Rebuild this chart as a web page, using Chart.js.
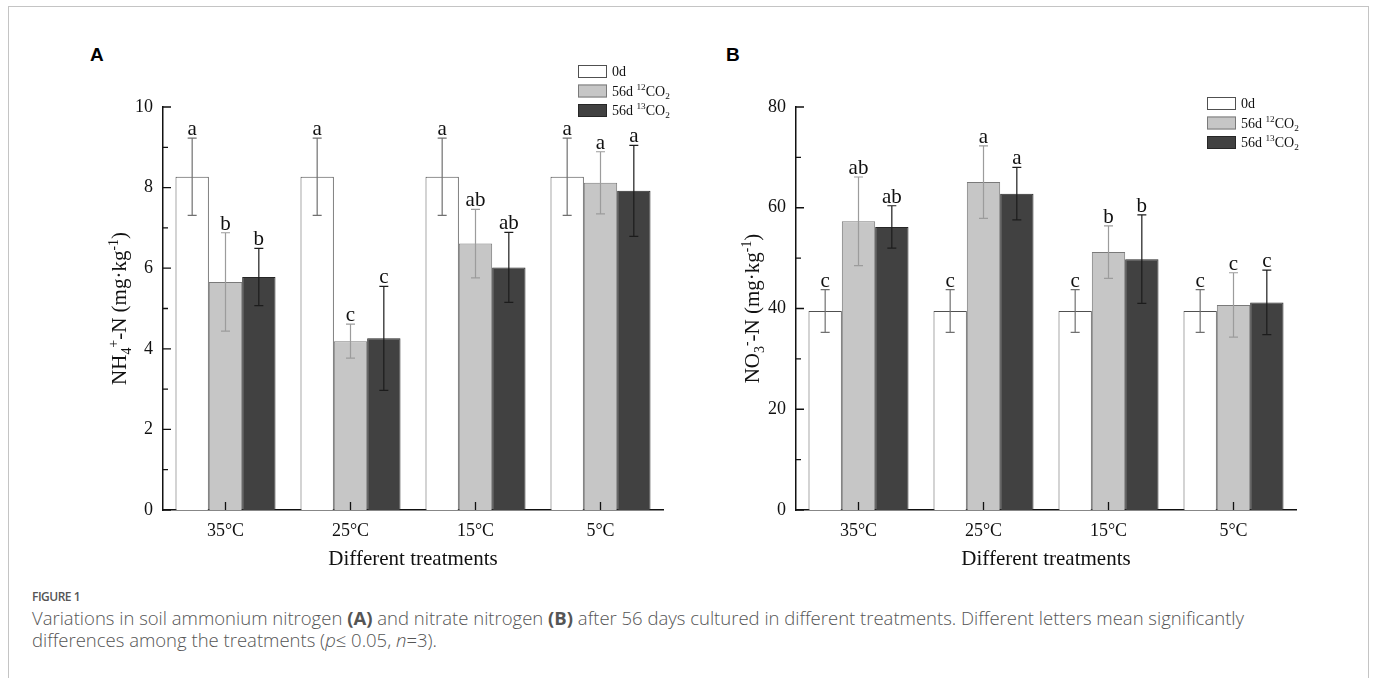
<!DOCTYPE html>
<html>
<head>
<meta charset="utf-8">
<script src="https://cdn.jsdelivr.net/npm/chart.js@4.4.1/dist/chart.umd.min.js"></script>
<style>
  body { margin: 0; background: #fff; }
  #page { position: relative; width: 1375px; height: 678px; overflow: hidden; background: #fff; }
  #frame { position: absolute; left: 8px; top: 6px; width: 1359px; height: 720px; border: 1px solid #c4c4c4; }
  canvas { position: absolute; }
  .panel { position: absolute; font: bold 19px "Liberation Sans", Arial, sans-serif; color: #000; }
  #figlabel { position: absolute; left: 32px; top: 588px; font: 600 12px "Open Sans", sans-serif; color: #555; letter-spacing: -0.5px; }
  #caption { position: absolute; left: 32px; top: 607px; width: 1320px; font: 300 18.5px "Open Sans", sans-serif; line-height: 22px; color: #555; white-space: nowrap; }
  #caption b { font-weight: 700; }
</style>
</head>
<body>
<div id="page">
  <div id="frame"></div>
  <div class="panel" style="left:90px;top:44px;">A</div>
  <div class="panel" style="left:726px;top:44px;">B</div>
  <canvas id="chartA" width="660" height="540" style="left:40px;top:40px;width:660px;height:540px;"></canvas>
  <canvas id="chartB" width="660" height="540" style="left:673px;top:40px;width:660px;height:540px;"></canvas>
  <div id="figlabel">FIGURE 1</div>
  <div id="caption">Variations in soil ammonium nitrogen <b>(A)</b> and nitrate nitrogen <b>(B)</b> after 56 days cultured in different treatments. Different letters mean significantly<br>differences among the treatments (<i>p</i>≤ 0.05, <i>n</i>=3).</div>
</div>
<script>
const categories = ['35°C', '25°C', '15°C', '5°C'];
const seriesNames = ['0d', '56d ¹²CO₂', '56d ¹³CO₂'];

// ammonium (A)
const nh4Day0 = [8.27, 8.27, 8.27, 8.27];
const nh4Day0Err = [0.96, 0.96, 0.96, 0.96];
const nh4C12 = [5.66, 4.19, 6.61, 8.12];
const nh4C12Err = [1.22, 0.42, 0.85, 0.77];
const nh4C13 = [5.78, 4.26, 6.02, 7.92];
const nh4C13Err = [0.71, 1.29, 0.87, 1.13];
const nh4Letters0 = ['a', 'a', 'a', 'a'];
const nh4Letters12 = ['b', 'c', 'ab', 'a'];
const nh4Letters13 = ['b', 'c', 'ab', 'a'];
const nh4Ticks = [0, 2, 4, 6, 8, 10];

// nitrate (B)
const no3Day0 = [39.5, 39.5, 39.5, 39.5];
const no3Day0Err = [4.25, 4.25, 4.25, 4.25];
const no3C12 = [57.3, 65.1, 51.2, 40.7];
const no3C12Err = [8.8, 7.2, 5.2, 6.4];
const no3C13 = [56.2, 62.8, 49.8, 41.2];
const no3C13Err = [4.2, 5.2, 8.8, 6.4];
const no3Letters0 = ['c', 'c', 'c', 'c'];
const no3Letters12 = ['ab', 'a', 'b', 'c'];
const no3Letters13 = ['ab', 'a', 'b', 'c'];
const no3Ticks = [0, 20, 40, 60, 80];

const fillColors = ['#ffffff', '#c6c6c6', '#414141'];
const edgeColors = ['#505050', '#7a7a7a', '#262626'];
const errColors = ['#707070', '#9c9c9c', '#1c1c1c'];
const SERIF = '"Liberation Serif", "Times New Roman", serif';

// split a string into normal / superscript / subscript runs
const SUP = { '¹': '1', '²': '2', '³': '3', '⁺': '+', '⁻': '-' };
const SUB = { '₂': '2', '₃': '3', '₄': '4' };
function toRuns(str) {
    const runs = [];
    for (const ch of str) {
        let kind = 'n', c = ch;
        if (SUP[ch]) { kind = 'sup'; c = SUP[ch]; }
        else if (SUB[ch]) { kind = 'sub'; c = SUB[ch]; }
        const last = runs[runs.length - 1];
        if (last && last.kind === kind) last.text += c;
        else runs.push({ kind, text: c });
    }
    return runs;
}
function drawRich(ctx, str, x, y, size, align) {
    const runs = toRuns(str);
    const small = size * 0.66;
    let total = 0;
    runs.forEach(r => {
        ctx.font = (r.kind === 'n' ? size : small) + 'px ' + SERIF;
        r.w = ctx.measureText(r.text).width;
        total += r.w;
    });
    let cx = align === 'center' ? x - total / 2 : x;
    ctx.textAlign = 'left';
    ctx.textBaseline = 'alphabetic';
    runs.forEach(r => {
        ctx.font = (r.kind === 'n' ? size : small) + 'px ' + SERIF;
        let dy = 0;
        if (r.kind === 'sup') dy = -size * 0.4;
        if (r.kind === 'sub') dy = size * 0.22;
        ctx.fillText(r.text, cx, y + dy);
        cx += r.w;
    });
}

const extrasPlugin = {
    id: 'extras',
    afterDatasetsDraw(chart, args, opts) {
        const ctx = chart.ctx;
        const { left, right, top, bottom } = chart.chartArea;
        const ys = chart.scales.y;
        ctx.save();

        // error bars and letters
        chart.data.datasets.forEach((ds, i) => {
            const meta = chart.getDatasetMeta(i);
            meta.data.forEach((bar, j) => {
                const v = ds.data[j], e = opts.errs[i][j];
                const yTop = ys.getPixelForValue(v + e);
                const yBot = ys.getPixelForValue(v - e);
                ctx.strokeStyle = errColors[i];
                ctx.lineWidth = 1.2;
                ctx.beginPath();
                ctx.moveTo(bar.x, yTop); ctx.lineTo(bar.x, yBot);
                ctx.moveTo(bar.x - 4.5, yTop); ctx.lineTo(bar.x + 4.5, yTop);
                ctx.moveTo(bar.x - 4.5, yBot); ctx.lineTo(bar.x + 4.5, yBot);
                ctx.stroke();
                ctx.fillStyle = '#111';
                ctx.font = '21px ' + SERIF;
                ctx.textAlign = 'center';
                ctx.textBaseline = 'alphabetic';
                ctx.fillText(opts.letters[i][j], bar.x, yTop - 3);
            });
        });

        // inward ticks
        ctx.strokeStyle = '#111';
        ctx.lineWidth = 1.3;
        ctx.beginPath();
        const step = opts.ticks[1] - opts.ticks[0];
        opts.ticks.forEach(t => {
            const y = ys.getPixelForValue(t);
            ctx.moveTo(left, y); ctx.lineTo(left + 8, y);
            if (t + step / 2 <= ys.max) {
                const ym = ys.getPixelForValue(t + step / 2);
                ctx.moveTo(left, ym); ctx.lineTo(left + 5, ym);
            }
        });
        const xs = chart.scales.x;
        categories.forEach((c, j) => {
            const x = xs.getPixelForValue(j);
            ctx.moveTo(x, bottom); ctx.lineTo(x, bottom - 8);
        });
        ctx.stroke();

        // y title
        ctx.save();
        ctx.translate(left - 44, (top + bottom) / 2);
        ctx.rotate(-Math.PI / 2);
        ctx.fillStyle = '#111';
        drawRich(ctx, opts.yTitle, 0, 7, 21, 'center');
        ctx.restore();

        // legend
        const lx = right + opts.legendDx;
        chart.data.datasets.forEach((ds, i) => {
            const ly = top + opts.legendDy + i * 19.5;
            ctx.fillStyle = fillColors[i];
            ctx.fillRect(lx, ly, 29, 13);
            ctx.strokeStyle = edgeColors[i];
            ctx.lineWidth = 1;
            ctx.strokeRect(lx + 0.5, ly + 0.5, 28, 12);
            ctx.fillStyle = '#111';
            drawRich(ctx, ds.label, lx + 34, ly + 11, 14, 'left');
        });
        ctx.restore();
    }
};

function makeChart(canvasId, series, errs, letters, ticks, yTitle, legendDx, legendDy) {
    const maxV = ticks[ticks.length - 1];
    return new Chart(document.getElementById(canvasId), {
        type: 'bar',
        data: {
            labels: categories,
            datasets: series.map((d, i) => ({
                label: seriesNames[i],
                data: d,
                backgroundColor: fillColors[i],
                borderColor: edgeColors[i],
                borderWidth: 1,
                categoryPercentage: 0.8,
                barPercentage: 1.0
            }))
        },
        options: {
            responsive: false,
            animation: false,
            devicePixelRatio: 1,
            layout: { autoPadding: false, padding: { left: 0, right: 37, top: 67, bottom: 0 } },
            plugins: {
                legend: { display: false },
                tooltip: { enabled: false },
                extras: { errs, letters, ticks, yTitle, legendDx, legendDy }
            },
            scales: {
                x: {
                    grid: { display: false, drawTicks: false },
                    border: { display: true, color: '#111', width: 1.5 },
                    ticks: { color: '#111', font: { family: SERIF, size: 18 }, padding: 10 },
                    title: { display: true, text: 'Different treatments', color: '#111', font: { family: SERIF, size: 21 }, padding: { top: 0, bottom: 8 } },
                    afterFit(s) { s.height = 70; }
                },
                y: {
                    min: 0,
                    max: maxV,
                    grid: { display: false, drawTicks: false },
                    border: { display: true, color: '#111', width: 1.5 },
                    ticks: { stepSize: ticks[1] - ticks[0], color: '#111', font: { family: SERIF, size: 18 }, padding: 10 },
                    afterFit(s) { s.width = 123; }
                }
            }
        },
        plugins: [extrasPlugin]
    });
}

makeChart('chartA',
    [nh4Day0, nh4C12, nh4C13],
    [nh4Day0Err, nh4C12Err, nh4C13Err],
    [nh4Letters0, nh4Letters12, nh4Letters13],
    nh4Ticks, 'NH₄⁺-N (mg·kg⁻¹)', -85, -42);

makeChart('chartB',
    [no3Day0, no3C12, no3C13],
    [no3Day0Err, no3C12Err, no3C13Err],
    [no3Letters0, no3Letters12, no3Letters13],
    no3Ticks, 'NO₃⁻-N (mg·kg⁻¹)', -89, -10);
</script>
</body>
</html>
